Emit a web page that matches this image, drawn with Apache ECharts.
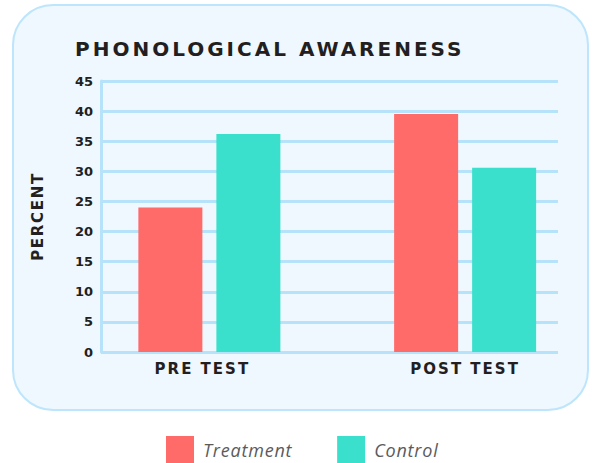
<!DOCTYPE html>
<html>
<head>
<meta charset="utf-8">
<style>
html,body{margin:0;padding:0;background:#ffffff;}
#chart{width:593px;height:463px;}
</style>
<script src="https://cdn.jsdelivr.net/npm/echarts@6/dist/echarts.min.js"></script>
</head>
<body>
<div id="chart"></div>
<script>
var categories = ['PRE TEST', 'POST TEST'];
var treatment = [24, 39.5];
var control = [36.2, 30.6];
var seriesNames = ['Treatment', 'Control'];
var yTicks = { min: 0, max: 45, interval: 5 };
var titleText = 'PHONOLOGICAL AWARENESS';
var yName = 'PERCENT';

var spacing = {
  'PHONOLOGICAL AWARENESS': '3px',
  'PERCENT': '1.7px',
  'PRE TEST': '2px',
  'POST TEST': '2px',
  'Treatment': '0.8px',
  'Control': '0.8px'
};

var gridColor = '#b6e2fa';
var dark = '#231f20';
var font = 'DejaVu Sans';

var chart = echarts.init(document.getElementById('chart'), null, { renderer: 'svg' });
var option = {
  animation: false,
  backgroundColor: '#ffffff',
  graphic: [{
    type: 'rect', z: -10, silent: true,
    shape: { x: 13, y: 5, width: 575, height: 405, r: 40 },
    style: { fill: '#eff7ff', stroke: '#bde5fb', lineWidth: 2 }
  }],
  title: {
    text: titleText, left: 70, top: 34,
    textStyle: { fontFamily: font, fontWeight: 'bold', fontSize: 20, color: dark }
  },
  legend: {
    data: seriesNames, left: 166, top: 436, padding: 0, itemWidth: 28, itemHeight: 27, itemGap: 52,
    icon: 'rect',
    textStyle: { fontFamily: 'Open Sans', fontStyle: 'italic', fontSize: 18, lineHeight: 20, color: '#5a5b5d', padding: [0, 0, 0, 4] }
  },
  grid: [
    { left: 101, right: 35, top: 81, bottom: 111 },
    { left: 81.5, right: -2.5, top: 81, bottom: 111 }
  ],
  xAxis: [
    { type: 'category', gridIndex: 0, data: categories, show: false },
    {
      type: 'category', gridIndex: 1, data: categories,
      axisLine: { show: false }, axisTick: { show: false },
      axisLabel: {
        margin: 9,
        formatter: function (v) { return v === categories[0] ? '{p|' + v + '}' : '{q|' + v + '}'; },
        rich: {
          p: { fontFamily: font, fontWeight: 'bold', fontSize: 15, color: dark, padding: [0, 14, 0, 0] },
          q: { fontFamily: font, fontWeight: 'bold', fontSize: 15, color: dark, padding: [0, 0, 0, 0] }
        }
      }
    }
  ],
  yAxis: [
    {
      type: 'value', gridIndex: 0, min: yTicks.min, max: yTicks.max, interval: yTicks.interval,
      name: yName, nameLocation: 'middle', nameRotate: 90, nameGap: 56,
      nameTextStyle: { fontFamily: font, fontWeight: 'bold', fontSize: 15, color: dark },
      axisLine: { show: true, lineStyle: { color: gridColor, width: 3 } },
      axisTick: { show: false },
      axisLabel: { margin: 8, fontFamily: font, fontWeight: 'bold', fontSize: 13, color: dark },
      splitLine: { show: true, lineStyle: { color: gridColor, width: 3 } }
    },
    {
      type: 'value', gridIndex: 1, min: yTicks.min, max: yTicks.max, interval: yTicks.interval,
      show: false, splitLine: { show: false }
    }
  ],
  series: [
    {
      name: seriesNames[0], type: 'bar', xAxisIndex: 1, yAxisIndex: 1, data: treatment,
      barWidth: 64, barGap: '21.875%', itemStyle: { color: '#ff6b69' }, z: 5
    },
    {
      name: seriesNames[1], type: 'bar', xAxisIndex: 1, yAxisIndex: 1, data: control,
      barWidth: 64, barGap: '21.875%', itemStyle: { color: '#3be0cc' }, z: 5
    }
  ]
};
chart.setOption(option);

function applySpacing() {
  var texts = document.querySelectorAll('#chart text');
  texts.forEach(function (t) {
    var s = spacing[t.textContent];
    if (s) t.style.letterSpacing = s;
  });
}
chart.on('finished', applySpacing);
applySpacing();
setTimeout(applySpacing, 0);
requestAnimationFrame(function () { applySpacing(); setTimeout(applySpacing, 50); });
</script>
</body>
</html>
